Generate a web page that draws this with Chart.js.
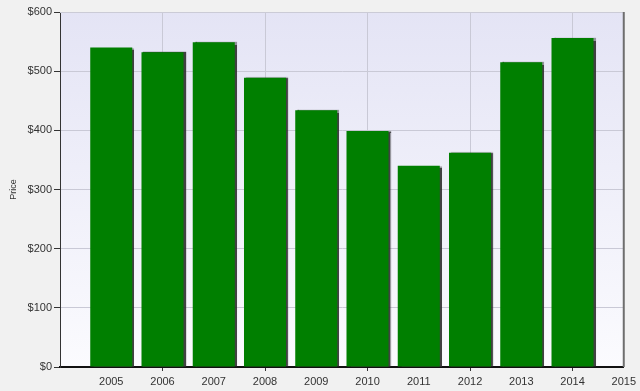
<!DOCTYPE html>
<html>
<head>
<meta charset="utf-8">
<script src="https://cdn.jsdelivr.net/npm/chart.js@4"></script>
<style>
  html, body { margin: 0; padding: 0; background: #f1f1f1; overflow: hidden; }
</style>
</head>
<body>
<canvas id="chart" width="640" height="391"></canvas>
<script>
const years = [2005, 2006, 2007, 2008, 2009, 2010, 2011, 2012, 2013, 2014];
const prices = [540, 532, 549, 489, 434, 399, 340, 362, 515, 556];
const yTicks = [0, 100, 200, 300, 400, 500, 600];

const points = years.map((y, i) => ({ x: y, y: prices[i] }));

const plotBackground = {
  id: 'plotBackground',
  beforeDraw(chart) {
    const { ctx, chartArea: a } = chart;
    const g = ctx.createLinearGradient(0, a.top, 0, a.bottom);
    g.addColorStop(0, '#e4e4f5');
    g.addColorStop(1, '#fbfbfe');
    ctx.save();
    ctx.fillStyle = g;
    ctx.fillRect(a.left, a.top, a.right - a.left, a.bottom - a.top);
    ctx.restore();
  },
  beforeDatasetsDraw(chart) {
    const ctx = chart.ctx;
    ctx.save();
    ctx.shadowColor = 'rgba(45,45,45,0.9)';
    ctx.shadowOffsetX = 2;
    ctx.shadowOffsetY = 0;
    ctx.shadowBlur = 1;
  },
  afterDatasetsDraw(chart) {
    chart.ctx.restore();
  },
  afterDraw(chart) {
    const { ctx, chartArea: a } = chart;
    ctx.save();
    ctx.strokeStyle = '#cbcbd6';
    ctx.lineWidth = 1;
    ctx.beginPath();
    ctx.moveTo(a.left, a.top + 0.5);
    ctx.lineTo(a.right, a.top + 0.5);
    ctx.stroke();
    ctx.strokeStyle = '#6e6e6e';
    ctx.lineWidth = 2;
    ctx.beginPath();
    ctx.moveTo(a.right, a.top);
    ctx.lineTo(a.right, a.bottom);
    ctx.stroke();
    ctx.restore();
  }
};

new Chart(document.getElementById('chart').getContext('2d'), {
  type: 'bar',
  data: {
    datasets: [{
      label: 'Price',
      data: points,
      backgroundColor: '#007f00',
      borderWidth: 0,
      barPercentage: 0.82,
      categoryPercentage: 1
    }]
  },
  plugins: [plotBackground],
  options: {
    responsive: false,
    animation: false,
    layout: { padding: { top: 12, right: 13, left: 0, bottom: 0 } },
    plugins: { legend: { display: false }, tooltip: { enabled: false } },
    scales: {
      x: {
        type: 'linear',
        offset: false,
        min: 2004,
        max: 2015,
        afterFit(scale) { scale.height = 24; },
        ticks: {
          stepSize: 1,
          autoSkip: false,
          maxRotation: 0,
          color: '#333',
          font: { family: 'Liberation Sans, Arial', size: 11 },
          padding: 4,
          callback: v => (v === 2004 ? '' : String(v))
        },
        grid: {
          offset: false,
          color: c => (c.tick && c.tick.value % 2 === 0 && c.tick.value !== 2004 ? '#c9c9d6' : 'rgba(0,0,0,0)'),
          tickColor: c => (c.tick && c.tick.value % 2 === 0 && c.tick.value !== 2004 ? '#333' : 'rgba(0,0,0,0)'),
          tickLength: 4
        },
        border: { color: '#111', width: 2 }
      },
      y: {
        min: 0,
        max: 600,
        afterFit(scale) { scale.width = 60; },
        afterBuildTicks(scale) { scale.ticks = yTicks.map(v => ({ value: v })); },
        title: {
          display: true,
          text: 'Price',
          color: '#333',
          font: { family: 'Liberation Sans, Arial', size: 9 },
          padding: { top: 8, bottom: 0 }
        },
        ticks: {
          color: '#333',
          font: { family: 'Liberation Sans, Arial', size: 11 },
          padding: 2,
          callback: v => '$' + v
        },
        grid: { color: '#c9c9d6', tickColor: '#333', tickLength: 6 },
        border: { color: '#333', width: 1 }
      }
    }
  }
});
</script>
</body>
</html>
